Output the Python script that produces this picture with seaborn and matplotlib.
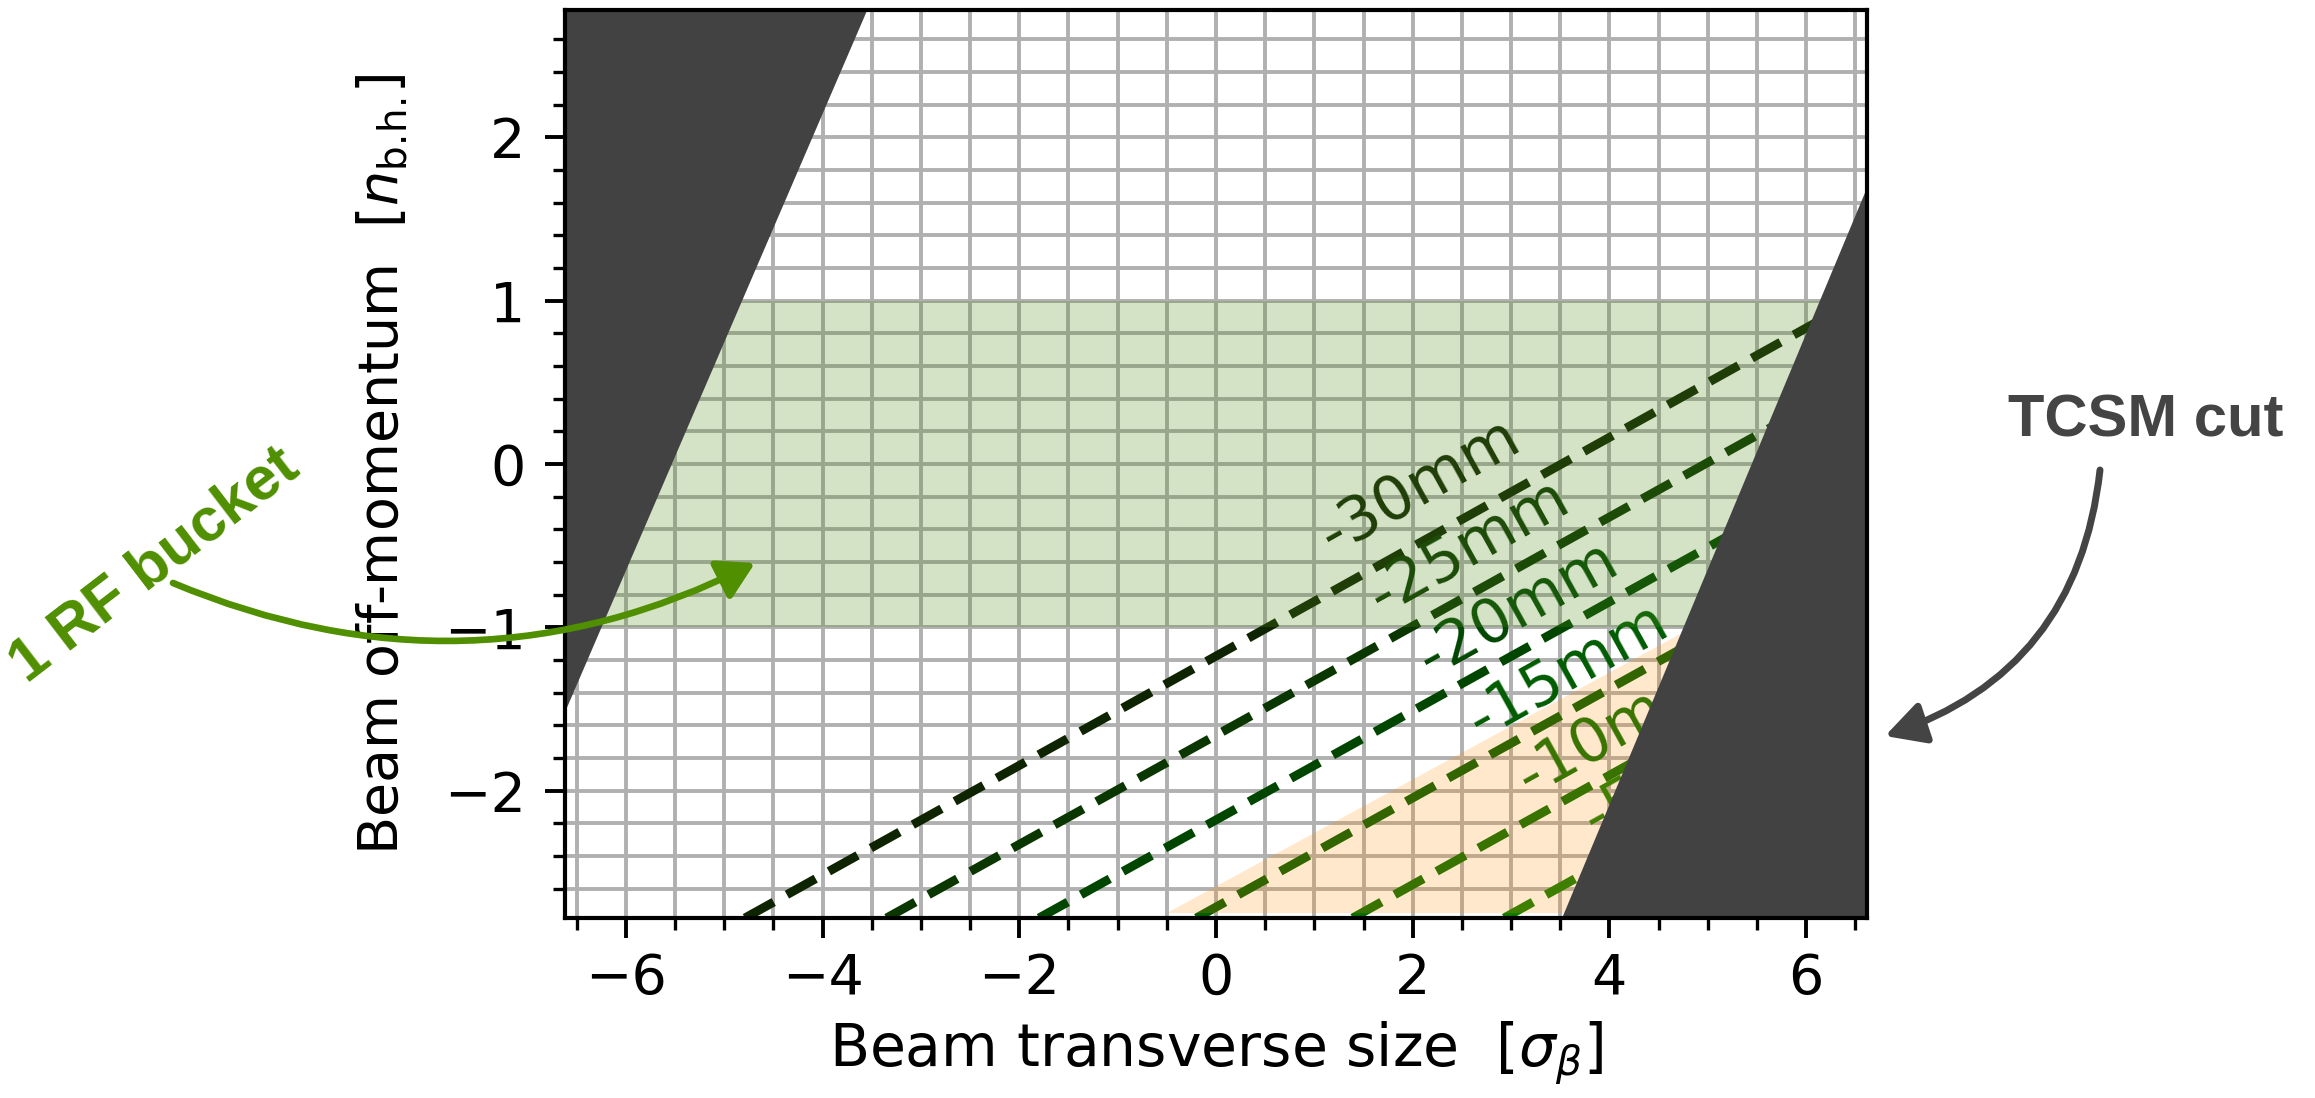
import numpy as np
import pandas as pd
import seaborn as sns
import matplotlib
matplotlib.use("Agg")
import matplotlib.pyplot as plt
from matplotlib.patches import FancyArrowPatch
from matplotlib.ticker import MultipleLocator

# ---------------- data ----------------
x_limits = [-6.62, 6.62]
y_limits = [-2.78, 2.78]

# constant-offset lines (dashed)
line_labels = ["-30mm", "-25mm", "-20mm", "-15mm", "-10mm", "-5mm"]
line_x_start = [-4.79, -3.35, -1.80, -0.20, 1.39, 2.93]
line_y_start = [-2.78, -2.78, -2.78, -2.78, -2.78, -2.78]
line_x_end = [6.62, 6.62, 6.62, 6.62, 6.62, 6.62]
line_y_end = [1.04, 0.55, 0.03, -0.50, -1.03, -1.55]
line_colors = ["#0e2400", "#0a3600", "#004600", "#005c00", "#076e00", "#0f7c00"]
label_x = [2.08, 2.57, 3.07, 3.58, 4.08, 4.58]
label_y = [-0.14, -0.51, -0.89, -1.27, -1.62, -1.93]
line_slope = 0.335

# RF bucket band
band_low, band_high = -1.0, 1.0

# orange region
orange_x = [-0.50, 6.62, 6.62]
orange_y = [-2.75, -0.42, -2.75]

# TCSM cut boundaries (left and right)
left_cut_x = [-6.62, -3.546, -6.62]
left_cut_y = [-1.52, 2.78, 2.78]
right_cut_x = [3.52, 6.62, 6.62]
right_cut_y = [-2.78, 1.69, -2.78]

# ---------------- figure ----------------
W, H, DPI = 2315, 1098, 200
sns.set_theme(style="ticks")
plt.rcParams["font.family"] = ["DejaVu Sans"]
plt.rcParams["axes.edgecolor"] = "black"
plt.rcParams["xtick.color"] = "black"
plt.rcParams["ytick.color"] = "black"
plt.rcParams["text.color"] = "black"
plt.rcParams["axes.labelcolor"] = "black"
plt.rcParams["mathtext.fontset"] = "dejavusans"

fig = plt.figure(figsize=(W / DPI, H / DPI), dpi=DPI)
ax = fig.add_axes([565 / W, 1 - 918 / H, (1867 - 565) / W, (918 - 10) / H])

# dashed lines via seaborn
for xs, ys, xe, ye, c in zip(line_x_start, line_y_start, line_x_end, line_y_end, line_colors):
    df = pd.DataFrame({"x": [xs, xe], "y": [ys, ye]})
    sns.lineplot(data=df, x="x", y="y", ax=ax, color=c, lw=3.2,
                 linestyle=(0, (3.7, 1.7)), zorder=2.1, legend=False)

angle = np.degrees(np.arctan(line_slope))
for lx, ly, lab, c in zip(label_x, label_y, line_labels, line_colors):
    ax.text(lx, ly, lab, color=c, fontsize=22, rotation=angle,
            transform_rotates_text=True, rotation_mode="anchor",
            ha="center", va="center", zorder=2.1)

# RF bucket band
ax.axhspan(band_low, band_high, color="#548c1e", alpha=0.25, lw=0, zorder=2.3)
# orange region
ax.fill(orange_x, orange_y, color="darkorange", alpha=0.2, lw=0, zorder=2.3)
# TCSM cut
ax.fill(left_cut_x, left_cut_y, color="#424242", lw=0, zorder=2.4)
ax.fill(right_cut_x, right_cut_y, color="#424242", lw=0, zorder=2.4)

ax.set_xlim(*x_limits)
ax.set_ylim(*y_limits)
ax.xaxis.set_major_locator(MultipleLocator(2))
ax.xaxis.set_minor_locator(MultipleLocator(0.5))
ax.yaxis.set_major_locator(MultipleLocator(1))
ax.yaxis.set_minor_locator(MultipleLocator(0.2))
ax.set_axisbelow(True)
ax.grid(which="both", color="#b0b0b0", lw=1.4)
ax.tick_params(which="major", length=7.2, width=1.4, labelsize=20, direction="out")
ax.tick_params(which="minor", length=4.3, width=1.2, direction="out")
ax.tick_params(axis="x", pad=5)
ax.tick_params(axis="y", pad=7)
for s in ax.spines.values():
    s.set_linewidth(1.5)
    s.set_color("black")

ax.set_xlabel(r"Beam transverse size  $[\sigma_\beta]$", fontsize=21, labelpad=5)
ax.set_ylabel(r"Beam off-momentum  $[n_{\mathrm{b.\!h.\!}}]$", fontsize=20, labelpad=12)

# annotations outside
def fpos(x, y):
    return (x / W, 1 - y / H)

green = "#4f8f00"
fig.text(*fpos(155, 566), "1 RF bucket", color=green, fontsize=22, fontweight="bold",
         family="Liberation Sans", rotation=37.5, rotation_mode="anchor",
         ha="center", va="center")
fig.text(*fpos(2146, 421), "TCSM cut", color="#444444", fontsize=21.5, fontweight="bold",
         family="Liberation Sans", ha="center", va="center")

a1 = FancyArrowPatch(fpos(173, 583), fpos(755, 563), transform=fig.transFigure,
                     connectionstyle="arc3,rad=0.23",
                     arrowstyle="-|>,head_length=0.55,head_width=0.32",
                     mutation_scale=20, lw=2.4, color=green, shrinkA=0, shrinkB=0)
fig.add_artist(a1)
a2 = FancyArrowPatch(fpos(2100, 470), fpos(1885, 736), transform=fig.transFigure,
                     connectionstyle="arc3,rad=-0.32",
                     arrowstyle="-|>,head_length=0.6,head_width=0.32",
                     mutation_scale=20, lw=2.5, color="#444444", shrinkA=0, shrinkB=0)
fig.add_artist(a2)

fig.savefig("out.png", dpi=DPI)
